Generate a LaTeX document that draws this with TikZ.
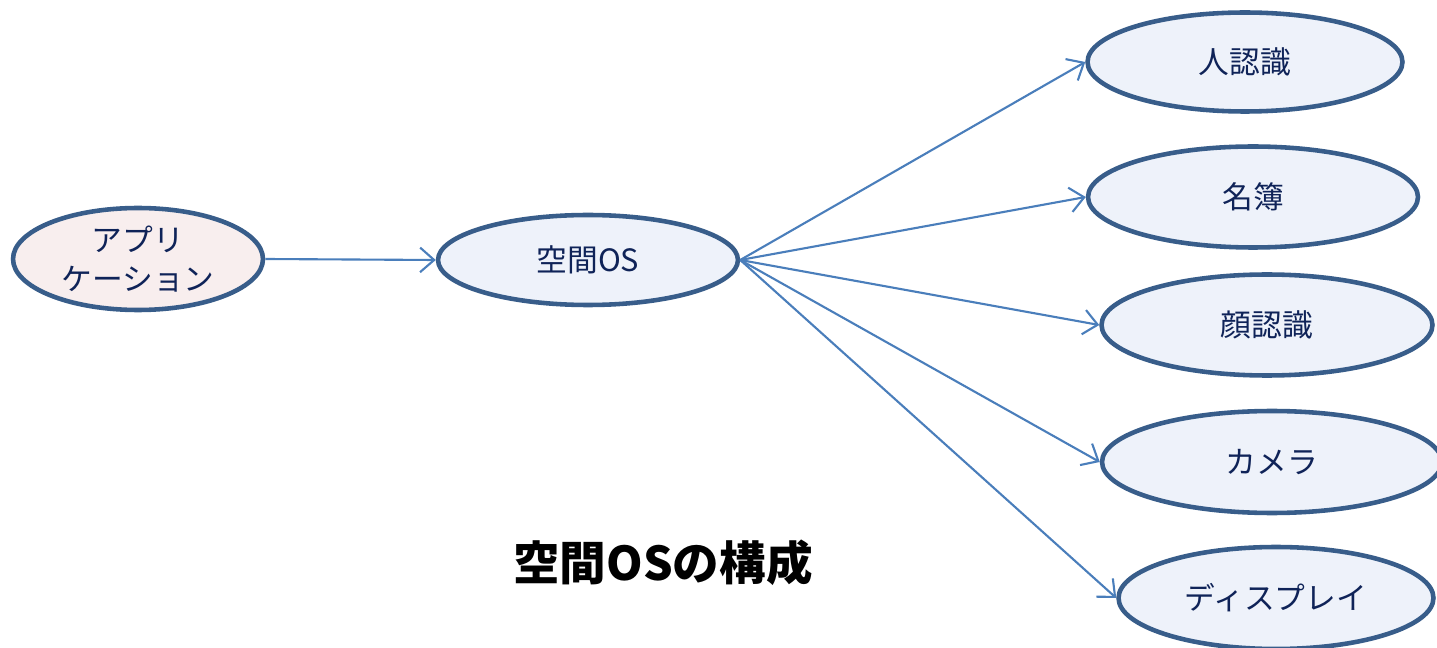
\documentclass[tikz,border=0pt]{standalone}
\usepackage{fontspec}
\setmainfont{Noto Sans CJK JP}
\usetikzlibrary{shapes.geometric,arrows.meta}
\definecolor{edgeblue}{HTML}{385D8A}
\definecolor{arrowblue}{HTML}{4A7EBB}
\definecolor{fillblue}{HTML}{EEF2FA}
\definecolor{fillpink}{HTML}{F8EEEE}
\definecolor{textnavy}{HTML}{0F2358}
\tikzset{
  oval/.style={ellipse, draw=edgeblue, line width=2.6pt, fill=fillblue, inner sep=0pt,
    text=textnavy, font=\fontsize{17.5}{22}\selectfont, align=center},
  conn/.style={draw=arrowblue, line width=1.2pt, -{Straight Barb[length=8pt,width=14pt,line width=1.2pt]}}
}
\begin{document}
\begin{tikzpicture}[x=0.02cm,y=-0.02cm]
\useasboundingbox (0,0) rectangle (1437,648);
\clip (0,0) rectangle (1437,648);
\node[oval, fill=fillpink, minimum width=5.0cm, minimum height=2.04cm] (app) at (138,259) {アプリ\\ケーション};
\node[oval, minimum width=6.0cm, minimum height=1.8cm] (os) at (588,260) {空間OS};
\node[oval, minimum width=6.3cm, minimum height=1.98cm] (jin) at (1245,62) {人認識};
\node[oval, minimum width=6.6cm, minimum height=2.02cm] (meibo) at (1253,197) {名簿};
\node[oval, minimum width=6.62cm, minimum height=2.02cm] (kao) at (1267,325) {顔認識};
\node[oval, minimum width=6.8cm, minimum height=2.04cm] (cam) at (1272,462) {カメラ};
\node[oval, minimum width=6.3cm, minimum height=2.04cm] (disp) at (1276,598) {ディスプレイ};
\node[font=\fontsize{26.5}{32}\selectfont\bfseries, text=black] (title) at (663,563) {空間OSの構成};
\draw[conn] (app.east) -- (os.west);
\foreach \t in {jin,meibo,kao,cam,disp}
  \draw[conn] (os.east) -- (\t.west);
\end{tikzpicture}
\end{document}
